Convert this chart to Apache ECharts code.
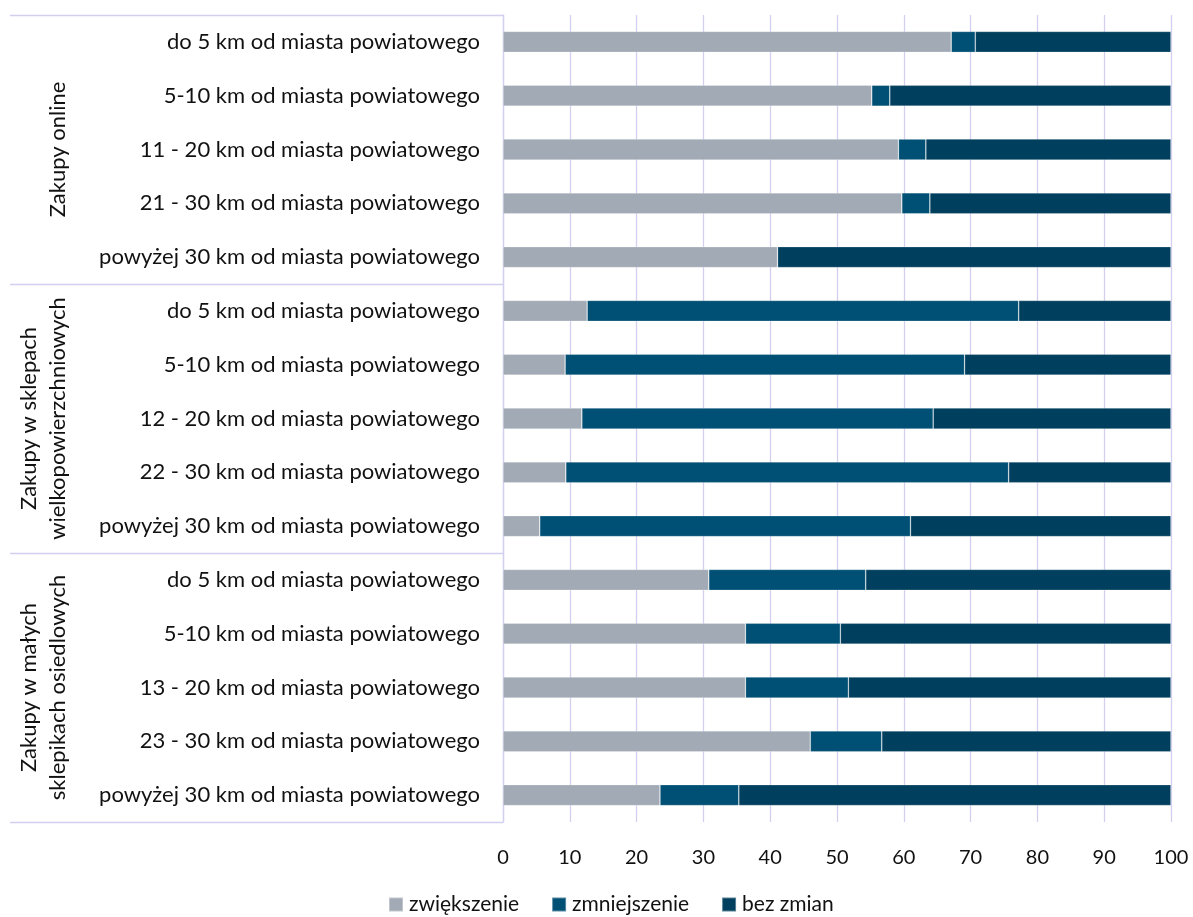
<!DOCTYPE html>
<html>
<head>
<meta charset="utf-8">
<script src="https://cdn.jsdelivr.net/npm/echarts@6/dist/echarts.min.js"></script>
<style>html,body{margin:0;padding:0;background:#fff;}#c{width:1193px;height:917px;}</style>
</head>
<body>
<div id="c"></div>
<script>
const categories = [
  'do 5 km od miasta powiatowego',
  '5-10 km od miasta powiatowego',
  '11 - 20 km od miasta powiatowego',
  '21 - 30 km od miasta powiatowego',
  'powyżej 30 km od miasta powiatowego',
  'do 5 km od miasta powiatowego ',
  '5-10 km od miasta powiatowego ',
  '12 - 20 km od miasta powiatowego',
  '22 - 30 km od miasta powiatowego',
  'powyżej 30 km od miasta powiatowego ',
  'do 5 km od miasta powiatowego  ',
  '5-10 km od miasta powiatowego  ',
  '13 - 20 km od miasta powiatowego',
  '23 - 30 km od miasta powiatowego',
  'powyżej 30 km od miasta powiatowego  '
];
const groups = ['Zakupy online', 'Zakupy w sklepach\nwielkopowierzchniowych', 'Zakupy w małych\nsklepikach osiedlowych'];
const seriesNames = ['zwiększenie', 'zmniejszenie', 'bez zmian'];
const zwiekszenie = [67.1, 55.2, 59.2, 59.7, 41.1, 12.6, 9.3, 11.8, 9.4, 5.5, 30.8, 36.3, 36.3, 46.0, 23.5];
const zmniejszenie = [3.6, 2.7, 4.1, 4.2, 0.0, 64.6, 59.8, 52.6, 66.3, 55.5, 23.5, 14.2, 15.4, 10.7, 11.8];
const bezZmian = [29.3, 42.1, 36.7, 36.1, 58.9, 22.8, 30.9, 35.6, 24.3, 39.0, 45.7, 49.5, 48.3, 43.3, 64.7];
const xTicks = [0, 10, 20, 30, 40, 50, 60, 70, 80, 90, 100];

const colors = ['#A1AAB5', '#004F74', '#013F5E'];
const font = 'Lato, "Open Sans", sans-serif';
const lav = '#D3CFF0';

const chart = echarts.init(document.getElementById('c'));
const mk = (name, data, i) => ({
  name, type: 'bar', stack: 'all', data,
  barWidth: 21,
  itemStyle: { color: colors[i], borderColor: 'rgba(255,255,255,0.35)', borderWidth: 0.7 },
  emphasis: { disabled: true }
});
chart.setOption({
  animation: false,
  textStyle: { fontFamily: font },
  grid: { left: 503, right: 22, top: 15, bottom: 95 },
  xAxis: {
    type: 'value', min: xTicks[0], max: xTicks[xTicks.length - 1], interval: 10,
    axisLine: { show: false }, axisTick: { show: false },
    splitLine: { lineStyle: { color: lav, width: 1.3 } },
    axisLabel: { color: '#111', fontSize: 20, margin: 26, fontFamily: font }
  },
  yAxis: [{
    type: 'category', inverse: true, data: categories,
    axisLine: { show: true, lineStyle: { color: lav, width: 1.3 } },
    axisTick: { show: false },
    axisLabel: { color: '#111', fontSize: 22, margin: 23, interval: 0, fontFamily: font, formatter: v => v.trim() }
  }, {
    type: 'category', inverse: true, data: groups, position: 'left',
    axisLine: { show: false },
    axisTick: { show: true, interval: 0, length: 493, lineStyle: { color: lav, width: 1.3 } },
    axisLabel: { color: '#111', fontSize: 22, lineHeight: 29, rotate: 90, interval: 0, margin: 431, fontFamily: font }
  }],
  legend: {
    data: seriesNames, top: 894, left: 388, itemWidth: 14, itemHeight: 14, itemGap: 32, padding: 0,
    icon: 'rect', textStyle: { fontSize: 21, color: '#111', fontFamily: font, padding: [0, 0, 0, 1] }
  },
  series: [mk(seriesNames[0], zwiekszenie, 0), mk(seriesNames[1], zmniejszenie, 1), mk(seriesNames[2], bezZmian, 2)]
});
</script>
</body>
</html>
